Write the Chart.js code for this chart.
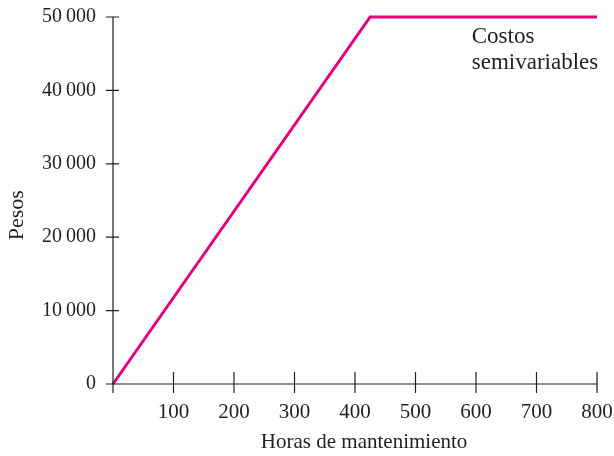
<!DOCTYPE html>
<html>
<head>
<meta charset="utf-8">
<script src="https://cdn.jsdelivr.net/npm/chart.js@4"></script>
<style>
  html, body { margin: 0; padding: 0; background: #fff; }
  #wrap { width: 614px; height: 456px; }
</style>
</head>
<body>
<div id="wrap"><canvas id="grafico" width="614" height="456"></canvas></div>
<script>
// Datos
const horas = [0, 425, 800];
const costos = [0, 50000, 50000];
const ticksX = [100, 200, 300, 400, 500, 600, 700, 800];
const etiquetasY = ['0', '10\u2009000', '20\u2009000', '30\u2009000', '40\u2009000', '50\u2009000'];
const nota = ['Costos', 'semivariables'];

const fuente = '"Liberation Serif", "Times New Roman", serif';
const colorTexto = '#231f20';

// Ejes con marcas que cruzan la línea, títulos de ejes y la nota del gráfico
const ejesPlugin = {
  id: 'ejes',
  afterDraw(chart) {
    const ctx = chart.ctx;
    const x = chart.scales.x, y = chart.scales.y;
    const x0 = x.getPixelForValue(0), y0 = y.getPixelForValue(0);
    ctx.save();
    ctx.strokeStyle = '#231f20';
    ctx.lineWidth = 1.2;
    ctx.beginPath();
    // eje y
    ctx.moveTo(x0, y.getPixelForValue(50000));
    ctx.lineTo(x0, y0 + 9);
    // eje x
    ctx.moveTo(x0 - 7, y0);
    ctx.lineTo(x.getPixelForValue(800), y0);
    for (let i = 1; i < etiquetasY.length; i++) {
      const py = y.getPixelForValue(i * 10000);
      ctx.moveTo(x0 - 7, py);
      ctx.lineTo(x0 + 6, py);
    }
    ticksX.forEach(v => {
      const px = x.getPixelForValue(v);
      ctx.moveTo(px, y0 - 12);
      ctx.lineTo(px, y0 + 9);
    });
    ctx.stroke();

    ctx.fillStyle = colorTexto;
    ctx.font = '23px ' + fuente;
    ctx.textAlign = 'left';
    ctx.textBaseline = 'alphabetic';
    ctx.fillText(nota[0], x.getPixelForValue(593), 43);
    ctx.fillText(nota[1], x.getPixelForValue(593), 69);

    // título del eje x
    ctx.font = '21px ' + fuente;
    ctx.textAlign = 'center';
    ctx.fillText('Horas de mantenimiento', x.getPixelForValue(415), 448);

    // título del eje y
    ctx.font = '22px ' + fuente;
    ctx.translate(17, y.getPixelForValue(23000));
    ctx.rotate(-Math.PI / 2);
    ctx.textBaseline = 'middle';
    ctx.fillText('Pesos', 0, 0);
    ctx.restore();
  }
};

new Chart(document.getElementById('grafico'), {
  type: 'line',
  data: {
    datasets: [{
      data: horas.map((h, i) => ({ x: h, y: costos[i] })),
      borderColor: '#e6007e',
      borderWidth: 3,
      pointRadius: 0,
      tension: 0,
      fill: false,
      clip: false
    }]
  },
  options: {
    responsive: false,
    animation: false,
    events: [],
    layout: { padding: { top: 17, right: 17, left: 0, bottom: 0 } },
    plugins: { legend: { display: false }, tooltip: { enabled: false } },
    scales: {
      x: {
        type: 'linear',
        min: 0,
        max: 800,
        afterFit(s) { s.height = 72; s.paddingLeft = 0; s.paddingRight = 0; },
        afterBuildTicks(s) { s.ticks = [0].concat(ticksX).map(v => ({ value: v })); },
        grid: { display: false, drawTicks: false },
        border: { display: false },
        ticks: {
          padding: 16,
          maxRotation: 0,
          autoSkip: false,
          color: colorTexto,
          font: { family: fuente, size: 21 },
          callback: v => (v === 0 ? '' : String(v))
        }
      },
      y: {
        type: 'linear',
        min: 0,
        max: 50000,
        afterFit(s) { s.width = 113; s.paddingTop = 0; s.paddingBottom = 0; },
        afterBuildTicks(s) { s.ticks = etiquetasY.map((t, i) => ({ value: i * 10000 })); },
        grid: { display: false, drawTicks: false },
        border: { display: false },
        ticks: {
          padding: 17,
          autoSkip: false,
          color: colorTexto,
          font: { family: fuente, size: 20 },
          callback: (v, i) => etiquetasY[i]
        }
      }
    }
  },
  plugins: [ejesPlugin]
});
</script>
</body>
</html>
